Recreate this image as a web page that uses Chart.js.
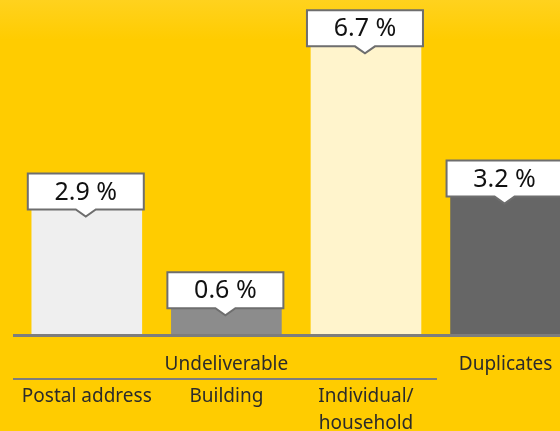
<!DOCTYPE html>
<html>
<head>
<meta charset="utf-8">
<script src="https://cdn.jsdelivr.net/npm/chart.js@4"></script>
<style>
  html, body { margin: 0; padding: 0; background: #ffcc00; }
  #wrap { width: 560px; height: 431px; position: relative; }
</style>
</head>
<body>
<div id="wrap"><canvas id="chart"></canvas></div>
<script>
// Données du graphique
const categories = ["Postal address", "Building", "Individual/\nhousehold", "Duplicates"];
const values = [2.9, 0.6, 6.7, 3.2];
const valueLabels = ["2.9 %", "0.6 %", "6.7 %", "3.2 %"];
const barColors = ["#efefef", "#8c8c8c", "#fff4cc", "#666666"];
const groupLabel = "Undeliverable";
const positions = [0, 1, 2, 3];

const FONT = "'Noto Sans', 'Open Sans', sans-serif";

// Fond jaune avec léger dégradé en haut
const backgroundPlugin = {
  id: "background",
  beforeDraw(chart) {
    const ctx = chart.ctx;
    const g = ctx.createLinearGradient(0, 0, 0, 40);
    g.addColorStop(0, "#ffd21e");
    g.addColorStop(1, "#ffcc00");
    ctx.save();
    ctx.fillStyle = g;
    ctx.fillRect(0, 0, chart.width, chart.height);
    ctx.restore();
  }
};

// Ligne de base, étiquettes et bulles de valeur
const decorPlugin = {
  id: "decor",
  afterDatasetsDraw(chart) {
    const ctx = chart.ctx;
    const x = chart.scales.x;
    const y = chart.scales.y;
    const base = y.getPixelForValue(0);
    ctx.save();

    // axe horizontal
    ctx.fillStyle = "#7d7d7d";
    ctx.fillRect(13, base, chart.width - 13, 3);

    // bulles
    const meta = chart.getDatasetMeta(0);
    meta.data.forEach((bar, i) => {
      const cx = bar.x - 1;
      const bottom = bar.y;
      const w = 116, h = 36;
      const left = cx - w / 2, top = bottom - h;
      ctx.beginPath();
      ctx.moveTo(left, top);
      ctx.lineTo(left + w, top);
      ctx.lineTo(left + w, bottom);
      ctx.lineTo(cx + 10, bottom);
      ctx.lineTo(cx, bottom + 7);
      ctx.lineTo(cx - 10, bottom);
      ctx.lineTo(left, bottom);
      ctx.closePath();
      ctx.fillStyle = "#ffffff";
      ctx.fill();
      ctx.lineWidth = 2;
      ctx.strokeStyle = "#6e6e6e";
      ctx.stroke();
      ctx.fillStyle = "#111111";
      ctx.font = "25px " + FONT;
      ctx.textAlign = "center";
      ctx.textBaseline = "middle";
      ctx.fillText(valueLabels[i], cx, top + h / 2 + 1);
    });

    // étiquettes de catégories
    ctx.fillStyle = "#2b2b2b";
    ctx.font = "19px " + FONT;
    ctx.textAlign = "center";
    ctx.textBaseline = "middle";
    ctx.fillText(groupLabel, x.getPixelForValue(1), 365);
    ctx.fillText(categories[3], x.getPixelForValue(3), 365);
    ctx.fillStyle = "#7d7d7d";
    ctx.fillRect(13, 378, 424, 2);
    ctx.fillStyle = "#2b2b2b";
    for (let i = 0; i < 3; i++) {
      const lines = categories[i].split("\n");
      lines.forEach((l, j) => {
        ctx.fillText(l, x.getPixelForValue(positions[i]), 397 + j * 27);
      });
    }
    ctx.restore();
  }
};

new Chart(document.getElementById("chart"), {
  type: "bar",
  data: {
    datasets: [{
      data: positions.map((p, i) => ({ x: p, y: values[i] })),
      backgroundColor: barColors,
      borderWidth: 0,
      barThickness: 110
    }]
  },
  options: {
    responsive: true,
    maintainAspectRatio: false,
    animation: false,
    layout: { padding: { left: 17, right: 0, top: 0, bottom: 97 } },
    plugins: {
      legend: { display: false },
      tooltip: { enabled: false }
    },
    scales: {
      x: { type: "linear", min: -0.5, max: 3.39, offset: false, display: false },
      y: { min: 0, max: 7.78, display: false }
    }
  },
  plugins: [backgroundPlugin, decorPlugin]
});
</script>
</body>
</html>
